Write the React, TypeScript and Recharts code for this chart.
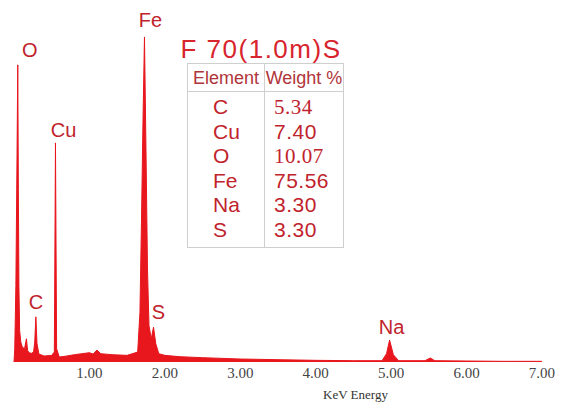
import { ComposedChart, Area, Scatter, XAxis, YAxis } from 'recharts'

// EDS spectrum (keV, counts)
const energy = [
  0.0, 0.01, 0.025, 0.04, 0.05, 0.058, 0.065, 0.075, 0.09, 0.11, 0.14, 0.165, 0.18, 0.2,
  0.23, 0.26, 0.275, 0.29, 0.305, 0.33, 0.4, 0.5, 0.535, 0.55, 0.565, 0.6, 0.7, 0.8,
  0.9, 1.0, 1.05, 1.1, 1.15, 1.3, 1.5, 1.64, 1.67, 1.69, 1.71, 1.73, 1.75, 1.77, 1.79,
  1.82, 1.85, 1.88, 1.92, 2.0, 2.2, 2.5, 3.0, 3.5, 4.0, 4.5, 4.88, 4.94, 4.98, 5.03,
  5.1, 5.45, 5.52, 5.58, 6.0, 6.5, 7.0,
]
const counts = [
  0, 40, 230, 620, 895, 520, 230, 95, 60, 45, 40, 70, 35, 28,
  26, 30, 60, 136, 55, 24, 18, 20, 30, 660, 40, 15, 18, 22,
  25, 28, 24, 36, 25, 22, 20, 30, 150, 420, 720, 979, 640, 280, 110,
  70, 105, 55, 25, 20, 16, 13, 9, 7, 5, 4, 4, 25, 66, 22,
  4, 4, 12, 4, 3, 2, 2,
]
const spectrum = energy.map((e, i) => ({ energy: e, counts: counts[i] }))

const peakNames = ['O', 'C', 'Cu', 'Fe', 'S', 'Na']
const peakEnergy = [0.05, 0.29, 0.55, 1.73, 1.85, 4.98]
const peakCounts = [895, 136, 660, 979, 105, 66]
const peaks = peakNames.map((n, i) => ({ name: n, energy: peakEnergy[i], counts: peakCounts[i] }))

const xTicks = [1, 2, 3, 4, 5, 6, 7]

const elements = ['C', 'Cu', 'O', 'Fe', 'Na', 'S']
const weights = ['5.34', '7.40', '10.07', '75.56', '3.30', '3.30']

// label placement relative to the peak top
const labelShift: Record<string, [number, number]> = {
  O: [12, -8], C: [0, -8], Cu: [8, -6], Fe: [6, -10], S: [5, -8], Na: [2, -6],
}

const RED = '#e8161d'
const LABEL = '#c0232c'
const SANS = "'Liberation Sans', Arial, sans-serif"
const SERIF = "'Liberation Serif', 'Times New Roman', serif"
const NARROW = "'Liberation Sans Narrow', 'Arial Narrow', sans-serif"

const PeakLabel = (props: any) => {
  const { cx, cy, payload } = props
  const [dx, dy] = labelShift[payload.name] || [0, -8]
  return (
    <text x={cx + dx} y={cy + dy} textAnchor="middle" fontFamily={SANS} fontSize={20} fill={LABEL}>
      {payload.name}
    </text>
  )
}

export default function App() {
  return (
    <div style={{ position: 'absolute', left: 0, top: 0, width: 561, height: 402, background: '#fff' }}>
      <ComposedChart width={561} height={402} data={spectrum} margin={{ top: 30, right: 4, left: 14, bottom: 0 }}>
        <XAxis
          dataKey="energy"
          type="number"
          domain={[0, 7.2]}
          ticks={xTicks}
          tickFormatter={(v: number) => v.toFixed(2)}
          tick={{ fontSize: 15, fill: '#444', fontFamily: SERIF }}
          tickLine={false}
          tickSize={0}
          tickMargin={5}
          axisLine={false}
          height={40}
          label={{ value: 'KeV Energy', position: 'insideBottom', offset: 3, dx: 70, fontSize: 13, fill: '#333', fontFamily: SERIF }}
        />
        <YAxis hide domain={[0, 1000]} />
        <Area
          type="linear"
          dataKey="counts"
          stroke={RED}
          strokeWidth={1}
          fill={RED}
          fillOpacity={1}
          dot={false}
          activeDot={false}
          isAnimationActive={false}
        />
        <Scatter data={peaks} dataKey="counts" shape={PeakLabel} isAnimationActive={false} />
      </ComposedChart>

      <div style={{ position: 'absolute', left: 170, top: 34, width: 182, textAlign: 'center', fontFamily: SANS, fontSize: 26, letterSpacing: 1.5, color: '#d8242c', lineHeight: '30px' }}>
        F 70(1.0m)S
      </div>
      <div style={{ position: 'absolute', left: 187, top: 63, width: 155, height: 183, border: '1px solid #cfcfcf', fontFamily: SANS, color: '#c0232c' }}>
        <div style={{ position: 'absolute', left: 76, top: 0, width: 1, height: 183, background: '#cfcfcf' }} />
        <div style={{ position: 'absolute', left: 0, top: 27, width: 155, height: 1, background: '#cfcfcf' }} />
        <div style={{ position: 'absolute', left: 0, top: 4, width: 76, textAlign: 'center', fontFamily: NARROW, fontSize: 18, color: '#b0353a' }}>Element</div>
        <div style={{ position: 'absolute', left: 77, top: 4, width: 78, textAlign: 'center', fontFamily: NARROW, fontSize: 18, color: '#b0353a' }}>Weight %</div>
        {elements.map((el, i) => (
          <div key={el} style={{ position: 'absolute', left: 25, top: 31 + i * 24.5, fontSize: 21, lineHeight: '24px' }}>{el}</div>
        ))}
        {weights.map((w, i) => (
          <div key={i} style={{ position: 'absolute', left: 86, top: 31 + i * 24.5, fontSize: 21, lineHeight: '24px', fontFamily: i === 0 || i === 2 ? SERIF : SANS, letterSpacing: 0.5 }}>{w}</div>
        ))}
      </div>
    </div>
  )
}
